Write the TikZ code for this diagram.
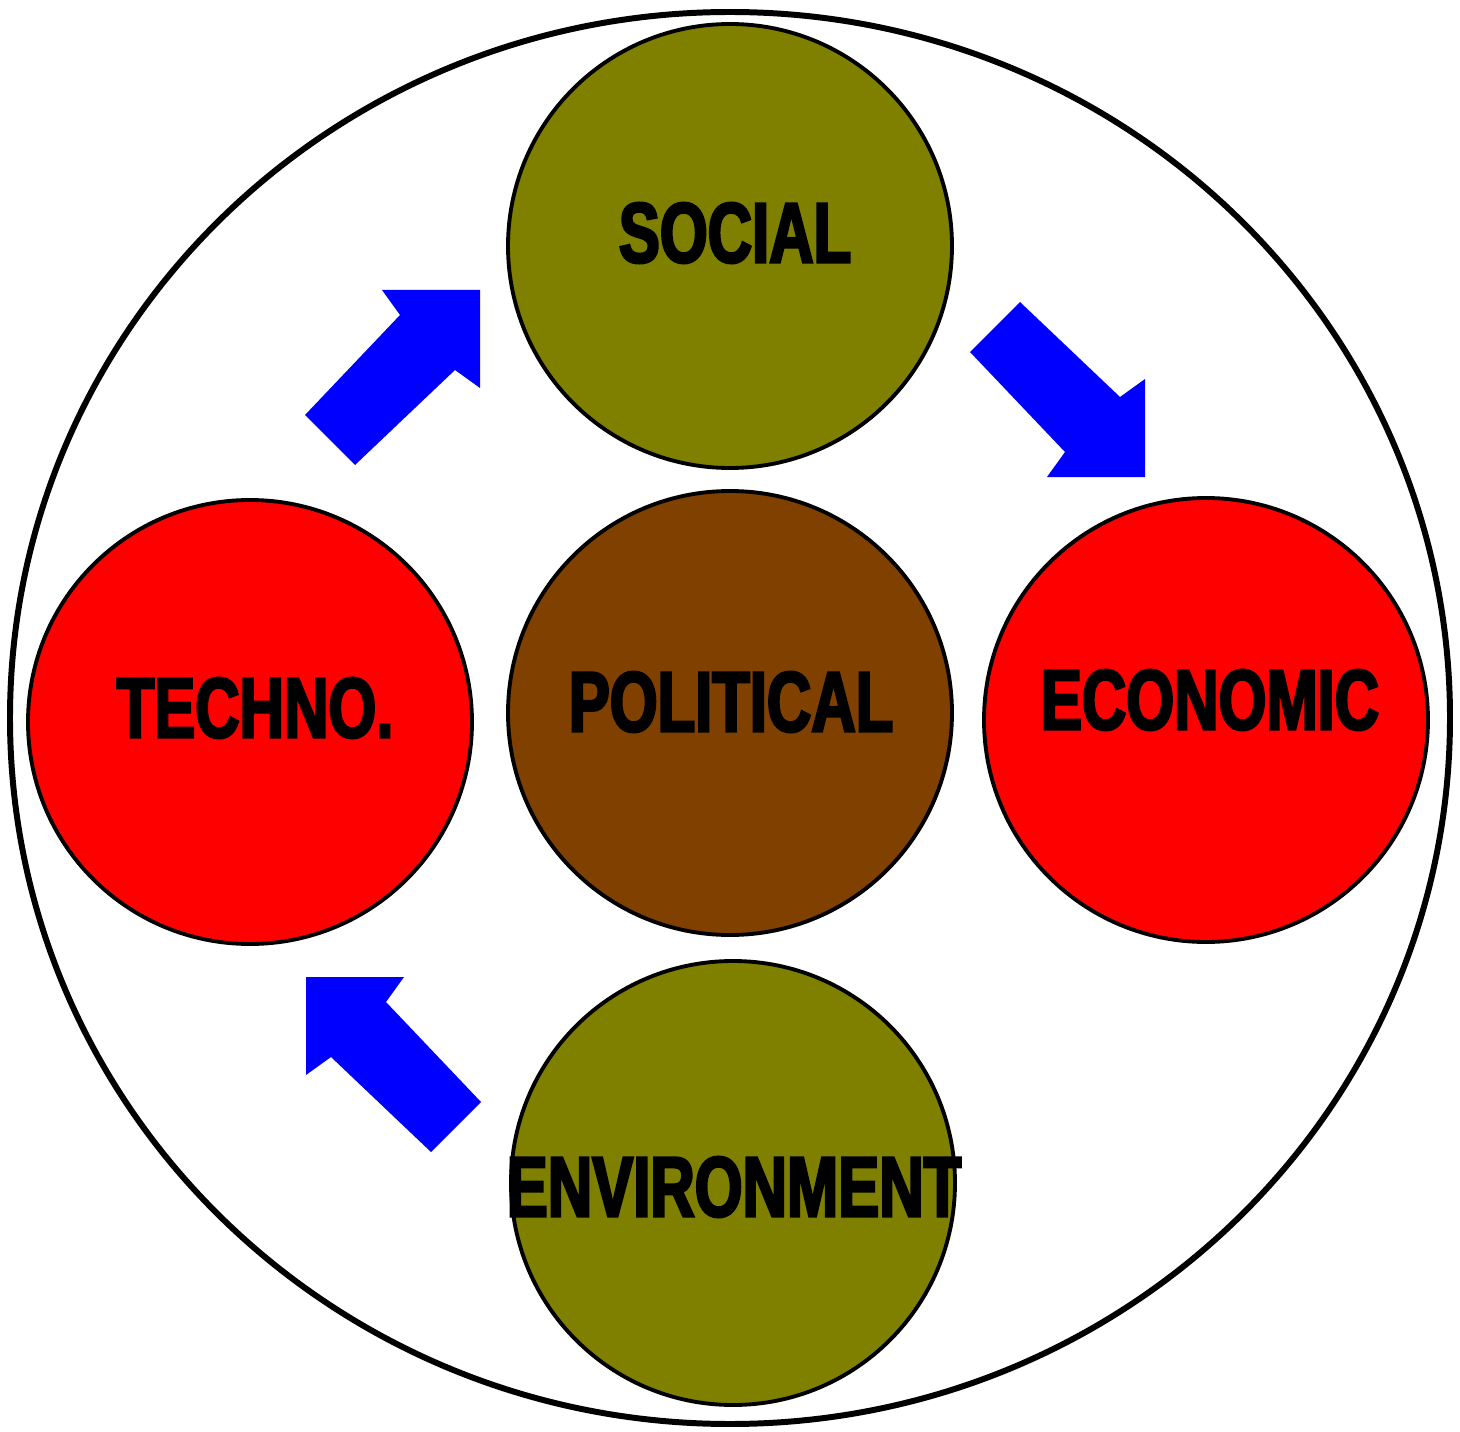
\documentclass[tikz,border=0pt]{standalone}
\usepackage{fontspec}
\newfontfamily\impactfont{Liberation Sans}[FakeStretch=0.72,BoldFeatures={FakeBold=3}]
\usetikzlibrary{positioning}
\definecolor{olivegreen}{RGB}{128,128,0}
\definecolor{politicbrown}{RGB}{128,64,0}
\definecolor{arrowblue}{RGB}{0,0,255}
\tikzstyle{sphere}=[circle,draw=black,line width=1.1pt,minimum size=4.44cm,inner sep=0]
\tikzstyle{caption}=[font=\impactfont\bfseries\fontsize{24.3}{29}\selectfont,inner sep=0]
\tikzset{pics/blockarrow/.style={code={
  \fill[arrowblue] (0,0) -- (-0.98,0) -- (-0.80,-0.25) -- (-1.75,-1.25)
    -- (-1.25,-1.75) -- (-0.25,-0.80) -- (0,-0.98) -- cycle;}}}

\begin{document}
\begin{tikzpicture}
  \useasboundingbox (0,0) rectangle (14.6,-14.32);

  % OUTER RING
  \draw[line width=1.7pt] (7.30,-7.18) ellipse (7.20 and 7.06);

  % SPHEREs
  \node[sphere,fill=olivegreen]   (social)   at (7.30,-2.46)  {};
  \node[sphere,fill=politicbrown] (politic)  at (7.30,-7.13)  {};
  \node[sphere,fill=red]          (techno)   at (2.50,-7.22)  {};
  \node[sphere,fill=red]          (economic) at (12.06,-7.20) {};
  \node[sphere,fill=olivegreen]   (environ)  at (7.33,-11.83) {};

  % CAPTIONS
  \node[caption] (socialtxt)   at (7.35,-2.33)  {SOCIAL};
  \node[caption] (politictxt)  at (7.31,-7.02)  {POLITICAL};
  \node[caption] (technotxt)   at (2.55,-7.08)  {TECHNO.};
  \node[caption] (economictxt) at (12.10,-7.00) {ECONOMIC};
  \node[caption] (environtxt)  at (7.34,-11.87) {ENVIRONMENT};

  % ARROWS
  \pic at (4.80,-2.90) {blockarrow};
  \pic[rotate=-90] at (11.45,-4.77) {blockarrow};
  \pic[rotate=90] at (3.06,-9.77) {blockarrow};
\end{tikzpicture}
\end{document}
